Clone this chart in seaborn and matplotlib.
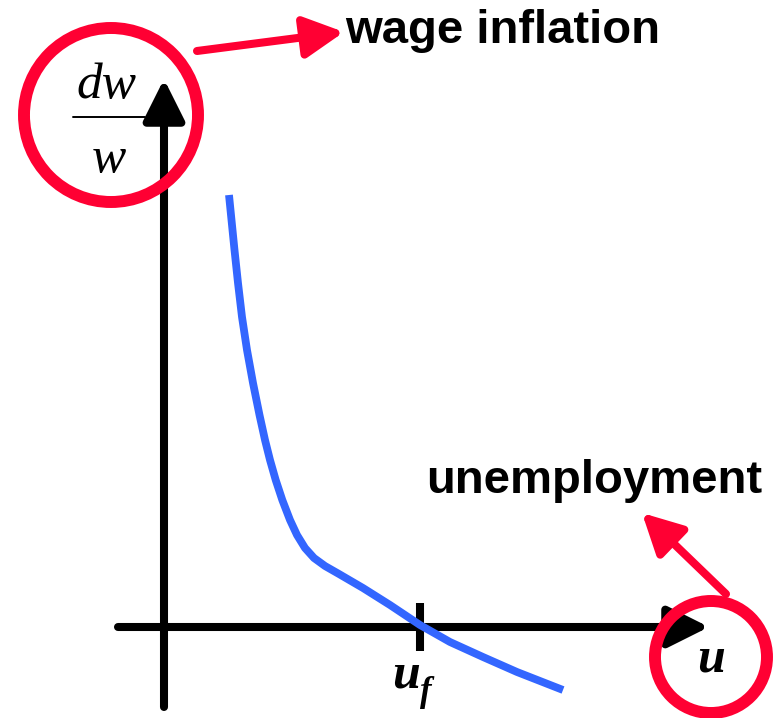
import numpy as np
import pandas as pd
import seaborn as sns
from matplotlib import pyplot as plt
from matplotlib.patches import Circle

# 曲线数据（u: 失业率, dw/w: 工资通胀），原点在两坐标轴交点
u_vals = [0.65, 0.705, 0.74, 0.78, 0.83, 0.89, 0.955, 1.01, 1.06, 1.117, 1.183, 1.26,
          1.33, 1.41, 1.50, 1.61, 1.75, 1.99, 2.26, 2.56, 2.86, 3.19, 3.53, 3.99]
w_vals = [4.32, 3.77, 3.44, 3.10, 2.77, 2.44, 2.12, 1.87, 1.67, 1.47, 1.27, 1.07,
          0.92, 0.79, 0.69, 0.61, 0.53, 0.39, 0.22, 0.02, -0.15, -0.30, -0.45, -0.63]
u_f = 2.56  # 自然失业率位置

label_top = "wage inflation"
label_right = "unemployment"

sns.set_theme(style="white")
plt.rcParams['font.family'] = ['Liberation Sans', 'DejaVu Sans']
plt.rcParams['text.color'] = 'black'

RED = "#ff0033"
BLUE = "#3366ff"

fig = plt.figure(figsize=(7.84, 7.18), dpi=100)
ax = fig.add_axes([0, 0, 1, 1])
ax.set_xlim(-1.64, 6.20)
ax.set_ylim(-0.91, 6.27)
ax.set_axis_off()

# 坐标轴（带箭头）
arrow_kw = dict(arrowstyle="-|>,head_length=2.5,head_width=1.25", color="black",
                lw=5.8, shrinkA=0, shrinkB=0, mutation_scale=10)
ax.annotate("", xy=(5.45, 0), xytext=(-0.46, 0), arrowprops=arrow_kw, zorder=2)
ax.annotate("", xy=(0, 5.48), xytext=(0, -0.80), arrowprops=arrow_kw, zorder=2)
ax.plot([u_f, u_f], [-0.24, 0.24], color="black", lw=5.8, solid_capstyle="butt", zorder=2)

# 菲利普斯曲线
df = pd.DataFrame({"u": u_vals, "w": w_vals})
sns.lineplot(data=df, x="u", y="w", sort=False, color=BLUE, linewidth=5.6, ax=ax, zorder=3)
for ln in ax.lines:
    if ln.get_label() != "_child0" and ln.get_color() == BLUE:
        ln.set_solid_capstyle("butt")
        ln.set_solid_joinstyle("round")

# 红圈
ax.add_patch(Circle((-0.53, 5.12), 0.87, fill=False, ec=RED, lw=8.6, zorder=4))
ax.add_patch(Circle((5.47, -0.30), 0.56, fill=False, ec=RED, lw=8.6, zorder=4))

# 红色箭头
red_kw = dict(arrowstyle="-|>,head_length=2.4,head_width=1.25", color=RED,
              lw=5.8, shrinkA=0, shrinkB=0, mutation_scale=10)
ax.annotate("", xy=(1.80, 5.95), xytext=(0.33, 5.76), arrowprops=red_kw, zorder=4)
ax.annotate("", xy=(4.78, 1.14), xytext=(5.62, 0.33), arrowprops=red_kw, zorder=4)

# 文字
ax.text(1.81, 5.84, label_top, color="black", fontsize=34, fontweight="bold",
        ha="left", va="baseline")
ax.text(2.62, 1.34, label_right, color="black", fontsize=34, fontweight="bold",
        ha="left", va="baseline")

serif = ['Liberation Serif', 'DejaVu Serif']
ax.text(-0.575, 5.29, "dw", family=serif, style="italic", color="black", fontsize=37,
        ha="center", va="baseline")
ax.plot([-0.91, -0.19], [5.10, 5.10], color="black", lw=1.4)
ax.text(-0.55, 4.55, "w", family=serif, style="italic", color="black", fontsize=37,
        ha="center", va="baseline")

ax.text(2.28, -0.61, "u", family=serif, style="italic", fontweight="bold", color="black",
        fontsize=36, ha="left", va="baseline")
ax.text(2.56, -0.74, "f", family=serif, style="italic", fontweight="bold", color="black",
        fontsize=25, ha="left", va="baseline")
ax.text(5.33, -0.45, "u", family=serif, style="italic", fontweight="bold", color="black",
        fontsize=36, ha="left", va="baseline", zorder=5)

fig.savefig("out.png", dpi=100)
